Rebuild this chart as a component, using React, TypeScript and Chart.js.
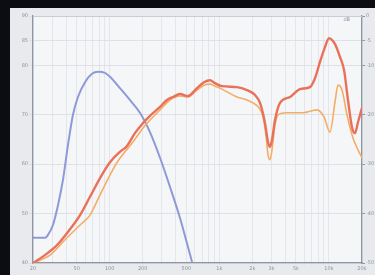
import React, { useEffect, useRef } from 'react';
import { Chart, registerables } from 'chart.js';

Chart.register(...registerables);

// X axis (log frequency, Hz)
const xGridValues = [20, 30, 40, 50, 60, 70, 80, 90, 100, 200, 300, 400, 500, 600, 700, 800, 900, 1000, 2000, 3000, 4000, 5000, 6000, 7000, 8000, 9000, 10000, 20000];
const xLabelValues = [20, 50, 100, 200, 500, 1000, 2000, 3000, 5000, 10000, 20000];
const xLabelTexts = ['20', '50', '100', '200', '500', '1k', '2k', '3k', '5k', '10k', '20k'];

// Y axes
const yTickValues = [40, 50, 60, 70, 80, 85, 90];
const leftTickLabels = ['40', '50', '60', '70', '80', '85', '90'];
const rightTickLabels = ['-50', '-40', '-30', '-20', '-10', '-5', '0'];

// Blue series (woofer / low section)
const blueFreq = [20, 23.2, 25.7, 27.4, 30.4, 33.8, 37.5, 41.7, 46.3, 51.4, 59.6, 69, 78.3, 90.7, 100.7, 124, 153, 189, 233, 288, 355, 438, 497, 564];
const blueDb = [45.1, 45.1, 45.1, 45.7, 47.7, 51.7, 56.8, 63.9, 70.0, 73.6, 76.6, 78.3, 78.7, 78.5, 77.7, 75.4, 73.0, 70.4, 66.5, 61.3, 55.4, 49.1, 44.7, 40.2];

// Red series
const redFreq = [20, 25.7, 33.1, 41.7, 53.7, 66.2, 81.7, 100.7, 124, 144, 170, 201, 233, 288, 333, 378, 438, 518, 626, 725, 822, 913, 1058, 1449, 1787, 2115, 2350, 2610, 2778, 2898, 3022, 3218, 3574, 4410, 5441, 6712, 7450, 8280, 9194, 10000, 11346, 12600, 13710, 14900, 16210, 17260, 18380, 20000];
const redDb = [40.0, 41.6, 43.6, 46.3, 49.7, 53.4, 57.2, 60.4, 62.5, 63.7, 66.3, 68.3, 69.8, 71.6, 73.0, 73.6, 74.2, 73.8, 75.4, 76.6, 77.0, 76.4, 75.8, 75.6, 75.0, 74.0, 72.4, 68.3, 64.5, 63.5, 64.9, 68.9, 72.4, 73.6, 75.2, 75.6, 77.4, 80.7, 83.7, 85.5, 84.3, 81.7, 79.1, 73.0, 67.5, 66.3, 68.5, 71.4];

// Orange series
const orangeFreq = [20, 28.6, 39.2, 53.7, 66.2, 81.7, 100.7, 117, 138, 163, 201, 233, 288, 355, 438, 518, 626, 725, 822, 913, 1058, 1449, 1787, 2028, 2300, 2502, 2664, 2778, 2898, 3022, 3218, 3428, 4140, 5794, 7774, 9004, 10214, 11346, 12080, 13140, 14590, 16560, 18380, 20000];
const orangeDb = [40.0, 41.6, 44.7, 47.7, 49.7, 53.8, 57.8, 60.4, 62.5, 64.5, 67.3, 68.9, 71.0, 73.0, 73.8, 73.6, 75.0, 76.0, 76.2, 75.8, 75.2, 73.6, 73.0, 72.4, 71.4, 69.6, 65.9, 61.9, 60.9, 62.9, 67.9, 70.0, 70.4, 70.4, 71.0, 69.6, 66.5, 72.6, 76.0, 75.0, 70.0, 65.3, 62.9, 61.3];

const toPoints = (xs: number[], ys: number[]) => xs.map((x, i) => ({ x, y: ys[i] }));

const bgPlugin = {
  id: 'plotBg',
  beforeDraw(chart: any) {
    const { ctx, chartArea } = chart;
    if (!chartArea) return;
    ctx.save();
    ctx.fillStyle = '#f5f6f8';
    ctx.fillRect(chartArea.left, chartArea.top, chartArea.right - chartArea.left, chartArea.bottom - chartArea.top);
    ctx.restore();
  },
  afterDraw(chart: any) {
    const { ctx, chartArea } = chart;
    if (!chartArea) return;
    ctx.save();
    ctx.strokeStyle = '#c9cdd5';
    ctx.lineWidth = 1;
    ctx.beginPath();
    ctx.moveTo(chartArea.left, chartArea.top + 0.5);
    ctx.lineTo(chartArea.right, chartArea.top + 0.5);
    ctx.stroke();
    ctx.fillStyle = '#8d929c';
    ctx.font = '5px "DejaVu Sans"';
    ctx.textAlign = 'right';
    ctx.textBaseline = 'top';
    ctx.fillText('dB', chartArea.right - 12, chartArea.top + 1);
    ctx.restore();
  },
};

export default function App() {
  const ref = useRef<HTMLCanvasElement | null>(null);

  useEffect(() => {
    if (!ref.current) return;
    const tickFont = { size: 5, family: '"DejaVu Sans", sans-serif' };
    const chart = new Chart(ref.current, {
      type: 'line',
      data: {
        datasets: [
          {
            label: 'Red',
            data: toPoints(redFreq, redDb),
            borderColor: '#e9715a',
            borderWidth: 2.4,
            pointRadius: 0,
            cubicInterpolationMode: 'monotone',
            order: 0,
          },
          {
            label: 'Orange',
            data: toPoints(orangeFreq, orangeDb),
            borderColor: '#f3ad66',
            borderWidth: 1.6,
            pointRadius: 0,
            cubicInterpolationMode: 'monotone',
            order: 1,
          },
          {
            label: 'Blue',
            data: toPoints(blueFreq, blueDb),
            borderColor: '#8e9ad8',
            borderWidth: 2,
            pointRadius: 0,
            cubicInterpolationMode: 'monotone',
            order: 2,
          },
        ],
      },
      options: {
        animation: false,
        responsive: false,
        maintainAspectRatio: false,
        layout: { padding: { top: 8, left: 0, right: 0, bottom: 0 } },
        plugins: { legend: { display: false }, tooltip: { enabled: false }, title: { display: false } },
        scales: {
          x: {
            type: 'logarithmic',
            min: 20,
            max: 20000,
            afterBuildTicks: (s: any) => {
              s.ticks = xGridValues.map((v) => ({ value: v }));
            },
            afterFit: (s: any) => {
              s.height = 12;
            },
            ticks: {
              autoSkip: false,
              maxRotation: 0,
              minRotation: 0,
              padding: 1,
              color: '#8d929c',
              font: tickFont,
              callback: (v: any) => {
                const i = xLabelValues.indexOf(Number(v));
                return i >= 0 ? xLabelTexts[i] : '';
              },
            },
            grid: { color: '#dde0e6', lineWidth: 0.7, tickLength: 2 },
            border: { color: '#8f96a3', width: 1.3 },
          },
          y: {
            position: 'left',
            min: 40,
            max: 90,
            afterBuildTicks: (s: any) => {
              s.ticks = yTickValues.map((v) => ({ value: v }));
            },
            afterFit: (s: any) => {
              s.width = 23;
            },
            ticks: {
              color: '#8d929c',
              font: tickFont,
              padding: 1,
              callback: (v: any) => {
                const i = yTickValues.indexOf(Number(v));
                return i >= 0 ? leftTickLabels[i] : '';
              },
            },
            grid: { color: '#d6d9e0', lineWidth: 0.7, tickLength: 4 },
            border: { color: '#8f96a3', width: 1.3 },
          },
          y2: {
            position: 'right',
            min: 40,
            max: 90,
            afterBuildTicks: (s: any) => {
              s.ticks = yTickValues.map((v) => ({ value: v }));
            },
            afterFit: (s: any) => {
              s.width = 13;
            },
            ticks: {
              color: '#8d929c',
              font: tickFont,
              padding: 1,
              callback: (v: any) => {
                const i = yTickValues.indexOf(Number(v));
                return i >= 0 ? rightTickLabels[i] : '';
              },
            },
            grid: { drawOnChartArea: false, color: '#8f96a3', tickLength: 3 },
            border: { color: '#8f96a3', width: 1.3 },
          },
        },
      },
      plugins: [bgPlugin],
    } as any);
    return () => chart.destroy();
  }, []);

  return (
    <div style={{ position: 'fixed', left: 0, top: 0, width: 375, height: 275, background: '#0c0d12', overflow: 'hidden' }}>
      <div style={{ position: 'absolute', left: 10, top: 8, width: 365, height: 267, background: '#e8eaee' }}>
        <canvas ref={ref} width={365} height={267} style={{ display: 'block', filter: 'blur(0.5px)' }} />
      </div>
    </div>
  );
}
